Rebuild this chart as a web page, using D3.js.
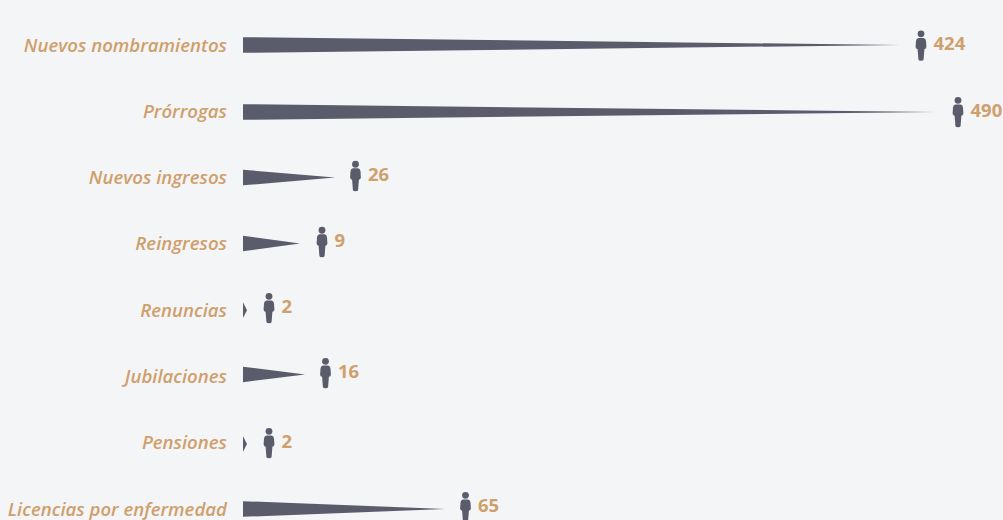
<!DOCTYPE html>
<html lang="es">
<head>
    <meta charset="UTF-8">
    <title>Movimientos de personal</title>
    <script src="https://d3js.org/d3.v7.min.js"></script>
    <style>
        html, body { margin: 0; padding: 0; background: #f4f5f7; overflow: hidden; }
        svg { display: block; }
        .label { font: italic 600 18.6px 'Open Sans', sans-serif; fill: #cf9f6c; text-anchor: end; }
        .value { font: 700 18.5px 'Open Sans', sans-serif; fill: #cf9f6c; }
        .bar, .person { fill: #5b5c6b; }
    </style>
</head>
<body>
    <svg id="chart" width="1003" height="520"></svg>
    <script>
        const categories = ["Nuevos nombramientos", "Prórrogas", "Nuevos ingresos", "Reingresos", "Renuncias", "Jubilaciones", "Pensiones", "Licencias por enfermedad"];
        const values = [424, 490, 26, 9, 2, 16, 2, 65];

        const svg = d3.select("#chart");
        const baseX = 243, barH = 15.6;

        // the spikes in the original are not proportional, so the scales are piecewise
        const x = d3.scaleLinear()
            .domain([2, 9, 16, 26, 65, 424, 490])
            .range([247, 300, 305, 335, 445, 900, 935]);
        const xIcon = d3.scaleLinear()
            .domain(x.domain())
            .range([269, 322, 325.5, 355.5, 465.5, 921, 958]);

        const y = d3.scalePoint()
            .domain(categories)
            .range([45, 509]);

        // the bars and icons do not sit on a regular grid in the original
        const iconNudge = [0.5, 0.7, -1.6, -1.9, -2.1, -3.4, 0.3, -2];
        const barNudge = [0, 0.7, 0, -0.4, 0, -2, 1.3, 0];

        const rows = svg.selectAll("g.row")
            .data(categories.map((c, i) => ({ name: c, value: values[i], nudge: iconNudge[i], barNudge: barNudge[i] })))
            .enter().append("g")
            .attr("class", "row");

        rows.append("text")
            .attr("class", "label")
            .attr("x", 227)
            .attr("y", d => y(d.name))
            .attr("dy", ".35em")
            .text(d => d.name);

        rows.append("path")
            .attr("class", "bar")
            .attr("d", d => {
                const c = y(d.name) + d.barNudge;
                return `M${baseX},${c - barH / 2}L${x(d.value)},${c}L${baseX},${c + barH / 2}Z`;
            });

        // little man, drawn around its own centre
        const person = rows.append("g")
            .attr("class", "person")
            .attr("transform", d => `translate(${xIcon(d.value)},${y(d.name) + d.nudge})`);

        person.append("circle").attr("cy", -11.7).attr("r", 3.4);
        person.append("path")
            .attr("d", "M-2.6,-7.6 L2.6,-7.6 Q4.8,-7 5,-4.6 L5.4,1.6 Q5.2,3.4 3.4,3.8 L2.6,14 Q2.4,15.2 0,15.2 Q-2.4,15.2 -2.6,14 L-3.4,3.8 Q-5.2,3.4 -5.4,1.6 L-5,-4.6 Q-4.8,-7 -2.6,-7.6 Z");

        rows.append("text")
            .attr("class", "value")
            .attr("x", d => xIcon(d.value) + 12.5)
            .attr("y", d => y(d.name) + d.nudge - 1.5)
            .attr("dy", ".35em")
            .text(d => d.value);
    </script>
</body>
</html>
